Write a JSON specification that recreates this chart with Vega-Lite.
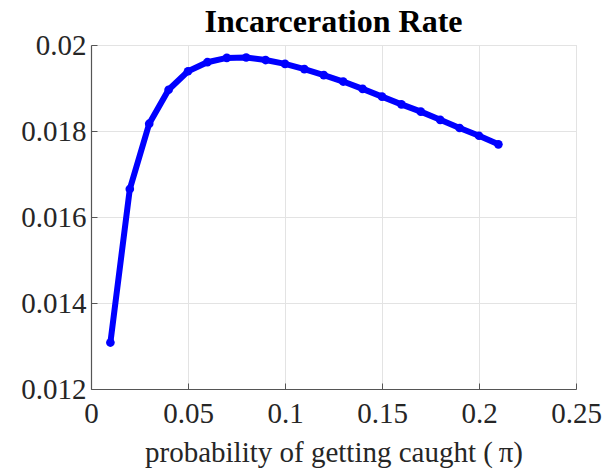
{
  "$schema": "https://vega.github.io/schema/vega-lite/v6.json",
  "description": "Incarceration rate vs probability of getting caught.",
  "width": 485,
  "height": 344,
  "autosize": {"type": "none"},
  "padding": {"left": 91, "top": 45, "right": 28, "bottom": 86},
  "background": "white",
  "title": {
    "text": "Incarceration Rate",
    "font": "Liberation Serif",
    "fontSize": 32,
    "fontWeight": "bold",
    "color": "black",
    "anchor": "middle",
    "baseline": "alphabetic",
    "offset": -2,
    "dy": 31
  },
  "config": {
    "view": {"stroke": "#dddddd", "strokeWidth": 1},
    "axis": {
      "labelFont": "Liberation Serif",
      "labelFontSize": 29,
      "labelColor": "#262626",
      "titleFont": "Liberation Serif",
      "titleFontSize": 29,
      "titleFontWeight": "normal",
      "titleColor": "#262626",
      "domainColor": "#555555",
      "domainWidth": 1.2,
      "tickColor": "#555555",
      "tickSize": -6,
      "gridColor": "#e3e3e3",
      "gridWidth": 1,
      "labelFlush": false
    }
  },
  "data": {
    "values": [
      {"pi": 0.01, "rate": 0.01308},
      {"pi": 0.02, "rate": 0.01665},
      {"pi": 0.03, "rate": 0.01817},
      {"pi": 0.04, "rate": 0.01896},
      {"pi": 0.05, "rate": 0.01939},
      {"pi": 0.06, "rate": 0.01960},
      {"pi": 0.07, "rate": 0.01970},
      {"pi": 0.08, "rate": 0.01971},
      {"pi": 0.09, "rate": 0.01965},
      {"pi": 0.10, "rate": 0.01956},
      {"pi": 0.11, "rate": 0.01944},
      {"pi": 0.12, "rate": 0.01930},
      {"pi": 0.13, "rate": 0.01915},
      {"pi": 0.14, "rate": 0.01898},
      {"pi": 0.15, "rate": 0.01880},
      {"pi": 0.16, "rate": 0.01862},
      {"pi": 0.17, "rate": 0.01845},
      {"pi": 0.18, "rate": 0.01826},
      {"pi": 0.19, "rate": 0.01807},
      {"pi": 0.20, "rate": 0.01789},
      {"pi": 0.21, "rate": 0.01769}
    ]
  },
  "mark": {
    "type": "line",
    "color": "#0000ff",
    "strokeWidth": 6,
    "point": {"filled": true, "color": "#0000ff", "size": 75}
  },
  "encoding": {
    "x": {
      "field": "pi",
      "type": "quantitative",
      "scale": {"domain": [0, 0.25], "nice": false, "zero": false},
      "axis": {
        "values": [0, 0.05, 0.1, 0.15, 0.2, 0.25],
        "format": "~g",
        "title": "probability of getting caught (\u2009π)",
        "labelPadding": 16,
        "titlePadding": 10
      }
    },
    "y": {
      "field": "rate",
      "type": "quantitative",
      "scale": {"domain": [0.012, 0.02], "nice": false, "zero": false},
      "axis": {
        "values": [0.012, 0.014, 0.016, 0.018, 0.02],
        "format": "~g",
        "title": null,
        "labelPadding": 11
      }
    }
  }
}
